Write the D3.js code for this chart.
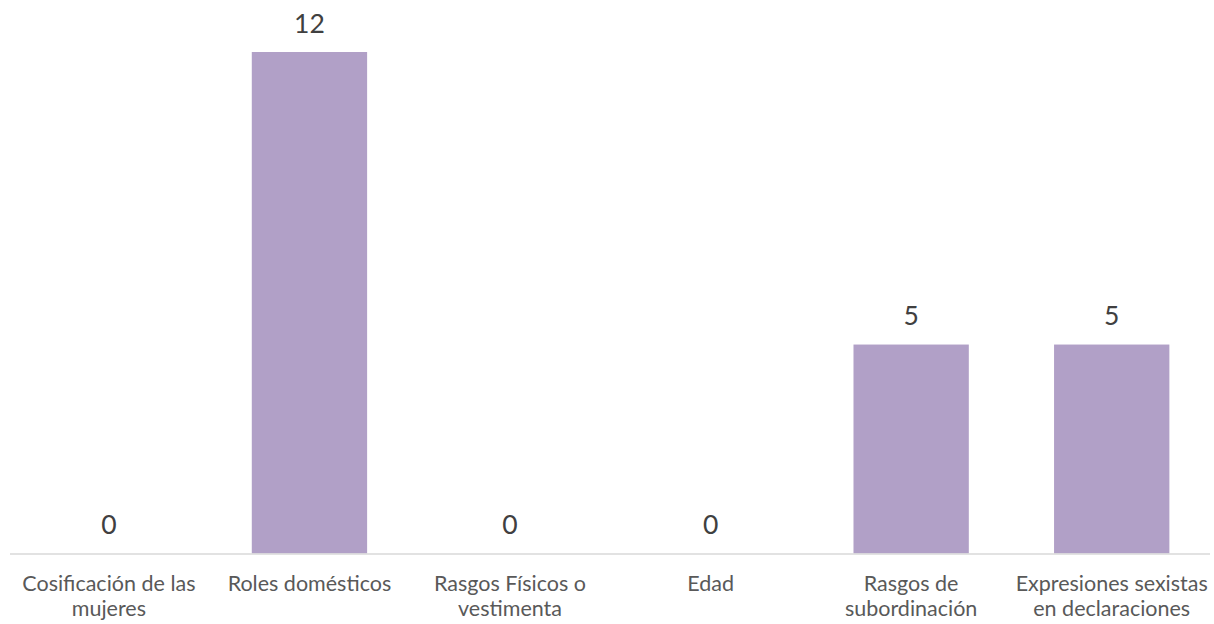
<!DOCTYPE html>
<html><head><meta charset="utf-8">
<script src="https://cdn.jsdelivr.net/npm/d3@7"></script>
<style>html,body{margin:0;padding:0;background:#fff;}</style>
</head><body>
<svg id="chart" width="1214" height="624"></svg>
<script>
const categories = [
  ["Cosificación de las", "mujeres"],
  ["Roles domésticos"],
  ["Rasgos Físicos o", "vestimenta"],
  ["Edad"],
  ["Rasgos de", "subordinación"],
  ["Expresiones sexistas", "en declaraciones"]
];
const values = [0, 12, 0, 0, 5, 5];

(function(){
const svg = d3.select("#chart");
const left = 8.6, right = 1212, base = 553.5, topY = 52;
const x = d3.scaleBand().domain(d3.range(categories.length)).range([left, right]).paddingInner(0.425).paddingOuter(0.2125);
const y = d3.scaleLinear().domain([0, 12]).range([base, topY]);

svg.selectAll("rect.bar").data(values).join("rect")
  .attr("class","bar")
  .attr("x",(d,i)=>x(i)).attr("width",x.bandwidth())
  .attr("y",d=>y(d)).attr("height",d=>base-y(d))
  .attr("fill","#b1a0c7");

svg.append("line").attr("x1",10).attr("x2",1210).attr("y1",base+0.5).attr("y2",base+0.5)
  .attr("stroke","#d9d9d9").attr("stroke-width",1.5);

const font = "Lato, 'Open Sans', sans-serif";
svg.selectAll("text.val").data(values).join("text")
  .attr("class","val")
  .attr("x",(d,i)=>x(i)+x.bandwidth()/2)
  .attr("y",d=>y(d)-19.5)
  .attr("text-anchor","middle")
  .attr("font-family",font).attr("font-size",26.5)
  .attr("fill","#404040")
  .text(d=>d);

const g = svg.selectAll("text.cat").data(categories).join("text")
  .attr("class","cat")
  .attr("text-anchor","middle")
  .attr("font-family",font).attr("font-size",21.5)
  .attr("fill","#595959");
g.selectAll("tspan").data((d,i)=>d.map(s=>({s,i}))).join("tspan")
  .attr("x",d=>x(d.i)+x.bandwidth()/2)
  .attr("y",(d,j)=>591+j*24.5)
  .text(d=>d.s);
})();
</script>
</body></html>
